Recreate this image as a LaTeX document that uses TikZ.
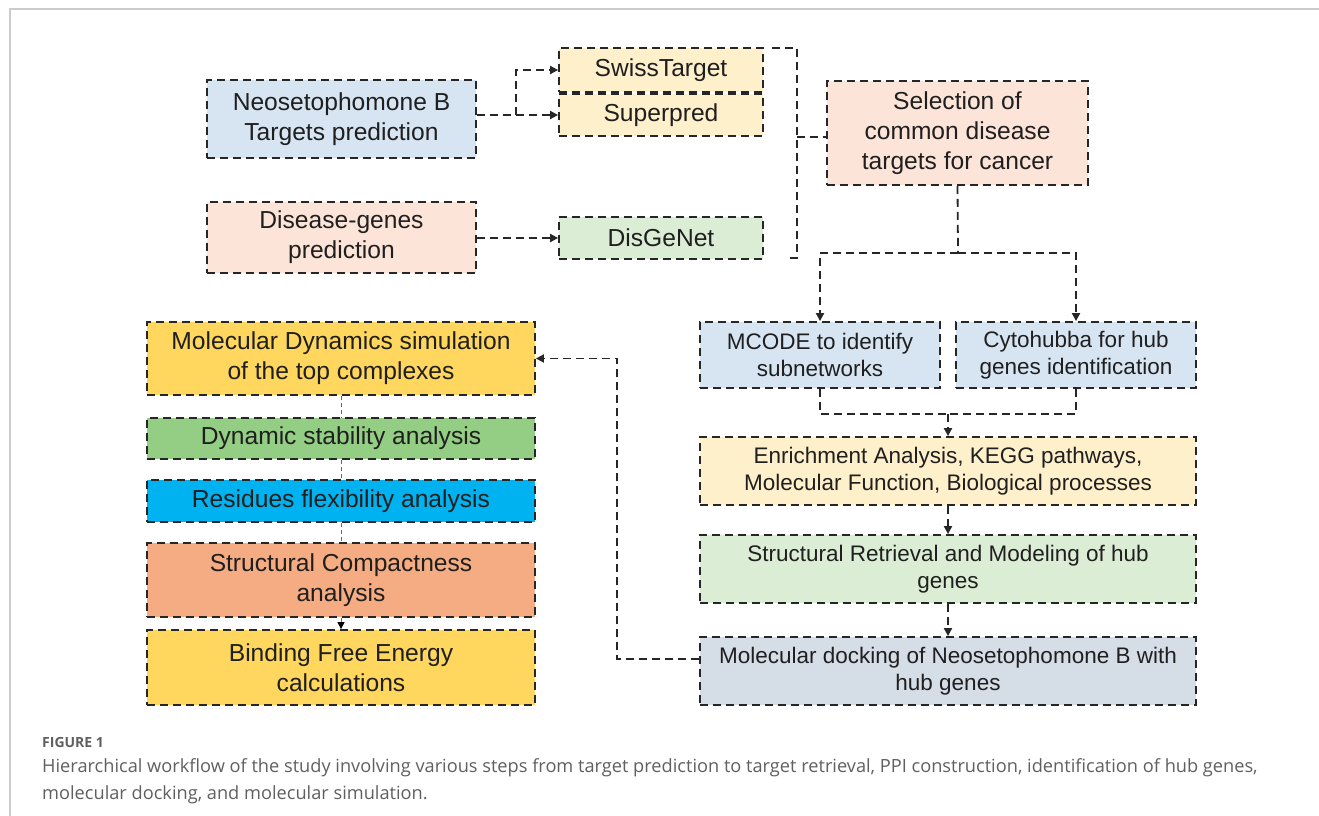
\documentclass[tikz,border=0pt]{standalone}
\usepackage{fontspec}
\setmainfont{Liberation Sans}
\newfontfamily\capfont{Open Sans}
\usetikzlibrary{arrows.meta}
\definecolor{cblue}{HTML}{D7E5F3}
\definecolor{cyel}{HTML}{FFF0CC}
\definecolor{cpeach}{HTML}{FCE4D8}
\definecolor{cgreen}{HTML}{DCEDD5}
\definecolor{cdock}{HTML}{D5DDE7}
\definecolor{cgold}{HTML}{FFD65E}
\definecolor{cdyn}{HTML}{94CD84}
\definecolor{cres}{HTML}{00B2F0}
\definecolor{ccomp}{HTML}{F6AC82}
\definecolor{frame}{HTML}{CCCCCC}
\definecolor{captxt}{HTML}{606060}
\begin{document}
\begin{tikzpicture}[x=1pt,y=-1pt,
  box/.style={draw=black!85, dash pattern=on 8pt off 5pt, line width=1.8pt,
    align=center, inner sep=0pt, text=black!88},
  big/.style={font=\fontsize{24.6}{30}\selectfont},
  med/.style={font=\fontsize{22.5}{27}\selectfont},
  conn/.style={draw=black!85, dash pattern=on 8pt off 5pt, line width=1.8pt},
  arr/.style={conn, -{Triangle[length=8pt,width=8pt]}},
  thin/.style={draw=black!60, dash pattern=on 4pt off 3pt, line width=1pt},
  captext/.style={anchor=base west, inner sep=0pt, text=captxt}]
\useasboundingbox (0,0) rectangle (1319,816);
\fill[white] (0,0) rectangle (1319,816);
\draw[frame, line width=2pt] (9.5,816) -- (9.5,9.5) -- (1319,9.5);

% top-left inputs
\node[box, big, fill=cblue, minimum width=269pt, minimum height=78pt] (neo) at (341.5,119) {Neosetophomone B\\Targets prediction};
\node[box, big, fill=cyel, minimum width=204pt, minimum height=44pt] (swiss) at (661,70) {SwissTarget};
\node[box, big, fill=cyel, minimum width=204pt, minimum height=42pt] (sup) at (661,115) {Superpred};
\node[box, big, fill=cpeach, minimum width=269pt, minimum height=71pt] (dis) at (341.5,237.5) {Disease-genes\\prediction};
\node[box, big, fill=cgreen, minimum width=204pt, minimum height=42pt] (dgn) at (661,238) {DisGeNet};
\node[box, big, fill=cpeach, minimum width=261pt, minimum height=104pt] (sel) at (957.5,133) {Selection of\\common disease\\targets for cancer};

% right column
\node[box, med, fill=cblue, minimum width=240pt, minimum height=66pt] (mcode) at (820,355) {MCODE to identify\\subnetworks};
\node[box, med, fill=cblue, minimum width=240pt, minimum height=66pt] (cyto) at (1076,355) {Cytohubba for hub\\genes identification};
\node[box, med, fill=cyel, minimum width=496pt, minimum height=68pt] (enr) at (948,471) {Enrichment Analysis, KEGG pathways,\\Molecular Function, Biological processes};
\node[box, med, fill=cgreen, minimum width=496pt, minimum height=68pt] (str) at (948,569) {Structural Retrieval and Modeling of hub\\genes};
\node[box, med, fill=cdock, minimum width=496pt, minimum height=68pt] (dock) at (948,671) {Molecular docking of Neosetophomone B with\\hub genes};

% left column
\node[box, big, fill=cgold, minimum width=388pt, minimum height=73pt] (md) at (341,358.5) {Molecular Dynamics simulation\\of the top complexes};
\node[box, big, fill=cdyn, minimum width=388pt, minimum height=41pt] (dyn) at (341,438.5) {Dynamic stability analysis};
\node[box, big, fill=cres, minimum width=388pt, minimum height=42pt] (res) at (341,501) {Residues flexibility analysis};
\node[box, big, fill=ccomp, minimum width=388pt, minimum height=74pt] (comp) at (341,580) {Structural Compactness\\analysis};
\node[box, big, fill=cgold, minimum width=388pt, minimum height=75pt] (bind) at (341,667.5) {Binding Free Energy\\calculations};

% connectors top
\coordinate (nj) at (516,115);
\draw[arr] (neo.east |- sup.west) -- (sup.west);
\draw[arr] (nj) |- (swiss.west);
\draw[arr] (dis.east |- dgn.west) -- (dgn.west);
\coordinate (bt) at (772,48);
\coordinate (bb) at (790,258);
\coordinate (bm) at (797,137);
\draw[conn] (bt) -- (797,48) -- (797,258) -- (bb);
\draw[conn] (bm) -- (sel.west |- bm);

% selection to mcode / cyto
\coordinate (sj) at (958,253);
\draw[conn] (sel.south) -- (sj);
\draw[arr] (sj) -| (mcode.north);
\draw[arr] (sj) -| (cyto.north);

% mcode/cyto to enrichment
\coordinate (ej) at (948,414);
\draw[conn] (mcode.south) |- (ej);
\draw[conn] (cyto.south) |- (ej);
\draw[arr] (ej) -- (enr.north);
\draw[arr] (enr.south) -- (str.north);
\draw[arr] (str.south) -- (dock.north);

% docking back to MD
\coordinate (dl) at (617,659);
\draw[arr] (dock.west |- dl) -- (dl) -- (dl |- md.east) -- (md.east);

% left column links
\draw[thin] (md.south) -- (dyn.north);
\draw[thin] (dyn.south) -- (res.north);
\draw[thin] (res.south) -- (comp.north);
\draw[thin, -{Triangle[length=7pt,width=7pt,fill=black,color=black]}] (comp.south) -- (bind.north);

% caption
\node[captext, font=\capfont\bfseries\fontsize{14}{16}\selectfont] (figlabel) at (42,747) {FIGURE 1};
\node[captext, font=\capfont\fontsize{18.2}{26}\selectfont] (cap1) at (42,772) {Hierarchical workflow of the study involving various steps from target prediction to target retrieval, PPI construction, identification of hub genes,};
\node[captext, font=\capfont\fontsize{18.2}{26}\selectfont] (cap2) at (42,799) {molecular docking, and molecular simulation.};
\end{tikzpicture}
\end{document}
